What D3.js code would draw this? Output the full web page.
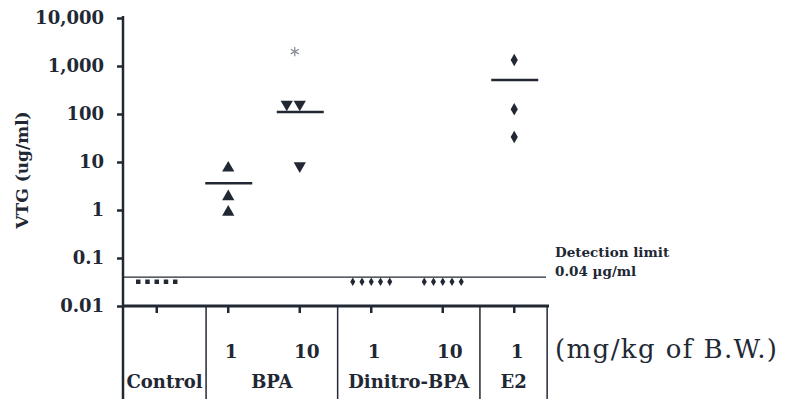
<!DOCTYPE html>
<html>
<head>
<meta charset="utf-8">
<script src="https://cdn.jsdelivr.net/npm/d3@7"></script>
<style>
  body { margin: 0; background: #fff; }
  svg text { font-family: "DejaVu Serif", serif; fill: #222833; }
</style>
</head>
<body>
<div id="chart"></div>
<script>
// treatment columns, left to right
const columns = ["control", "bpa1", "bpa10", "dnb1", "dnb10", "e2"];
const doseLabels = ["", "1", "10", "1", "10", "1"];
// column groups for the bottom table
const groupNames = ["Control", "BPA", "Dinitro-BPA", "E2"];
const groupEdges = [0, 1.19, 3.03, 5.02, 5.96];   // in slot units

const yTicks = [0.01, 0.1, 1, 10, 100, 1000, 10000];
const detectionLimit = 0.04;

// individual fish (ug/ml)
const bpa1Values = [7.5, 1.9, 0.9];
const bpa10Values = [160, 160, 8.3];
const e2Values = [1330, 126, 33];
const bpa10Outlier = [2000];          // grey asterisk
// group means (horizontal bars)
const meanValues = {bpa1: 3.6, bpa10: 110, e2: 510};
// groups where all five fish were below the detection limit
const belowLimitGroups = ["control", "dnb1", "dnb10"];
const belowLimitCount = 5;
const belowLimitValue = 0.032;

const W = 788, H = 399;
const svg = d3.select("#chart").append("svg")
    .attr("width", W).attr("height", H);

const ink = "#222833";

const y = d3.scaleLog().domain([0.01, 10000]).range([306, 18]);
const slot = d3.scaleLinear().domain([0, 6]).range([121, 550]);
const x = d3.scaleBand().domain(columns).range([121, 550]);
const cx = c => x(c) + x.bandwidth() / 2;

// detection limit line
svg.append("line")
    .attr("x1", 123).attr("x2", 546)
    .attr("y1", y(detectionLimit)).attr("y2", y(detectionLimit))
    .attr("stroke", ink).attr("stroke-width", 1.2);

svg.append("text").attr("x", 555).attr("y", 257)
    .style("font-size", "13.5px").style("font-weight", "bold")
    .text("Detection limit");
svg.append("text").attr("x", 555).attr("y", 276)
    .style("font-size", "13.5px").style("font-weight", "bold")
    .text("0.04 \u00b5g/ml");

// y axis
const yAxis = svg.append("g")
    .attr("transform", "translate(123,0)")
    .call(d3.axisLeft(y).tickValues(yTicks).tickFormat(d3.format(","))
        .tickSize(6).tickPadding(13));
yAxis.select(".domain").remove();
yAxis.selectAll(".tick line").attr("stroke", ink).attr("stroke-width", 2.5);
yAxis.selectAll(".tick text")
    .style("font-family", "DejaVu Serif").style("font-size", "18px")
    .style("font-weight", "bold").attr("fill", ink);

// axis spine runs all the way down through the table
svg.append("line")
    .attr("x1", 123).attr("x2", 123).attr("y1", 16).attr("y2", H)
    .attr("stroke", ink).attr("stroke-width", 2.5);

svg.append("text")
    .attr("transform", "translate(28,170) rotate(-90)")
    .attr("text-anchor", "middle")
    .style("font-size", "17px").style("font-weight", "bold")
    .text("VTG (ug/ml)");

// bottom axis with ticks at each column
svg.append("line")
    .attr("x1", 122).attr("x2", 549).attr("y1", y(0.01)).attr("y2", y(0.01))
    .attr("stroke", ink).attr("stroke-width", 3);
const xAxis = svg.append("g")
    .attr("transform", "translate(0," + y(0.01) + ")")
    .call(d3.axisBottom(x).tickSize(7).tickFormat(""));
xAxis.select(".domain").remove();
xAxis.selectAll(".tick line").attr("stroke", ink).attr("stroke-width", 2.5);

// table separators
svg.selectAll(".sep")
    .data(groupEdges.slice(1))
    .enter().append("line")
    .attr("x1", d => slot(d)).attr("x2", d => slot(d))
    .attr("y1", y(0.01)).attr("y2", H)
    .attr("stroke", ink).attr("stroke-width", 1.5);

svg.selectAll(".dose")
    .data(columns)
    .enter().append("text")
    .attr("x", (c, i) => cx(c) + (doseLabels[i] === "10" ? 7 : 3))
    .attr("y", 358)
    .attr("text-anchor", "middle")
    .style("font-size", "18.5px").style("font-weight", "bold")
    .text((c, i) => doseLabels[i]);

svg.selectAll(".group")
    .data(groupNames)
    .enter().append("text")
    .attr("x", (g, i) => (slot(groupEdges[i]) + slot(groupEdges[i + 1])) / 2 + (i === 0 ? 1 : 0))
    .attr("y", 388)
    .attr("text-anchor", "middle")
    .style("font-size", "18px").style("font-weight", "bold")
    .text(g => g);

svg.append("text").attr("x", 555).attr("y", 358)
    .style("font-size", "26px").style("letter-spacing", "1.4px")
    .text("(mg/kg of B.W.)");

// data marks
const sym = (type, size) => d3.symbol().type(type).size(size)();
const downTri = "rotate(180)";

function spread(vals) {
    // side-by-side placement for equal values
    const seen = {};
    return vals.map(v => {
        const k = seen[v] || 0;
        seen[v] = k + 1;
        return {v: v, dx: -13 * k};
    });
}

svg.selectAll(".bpa1")
    .data(bpa1Values)
    .enter().append("path")
    .attr("d", sym(d3.symbolTriangle, 65))
    .attr("transform", d => "translate(" + cx("bpa1") + "," + y(d) + ")")
    .attr("fill", ink);

svg.selectAll(".bpa10")
    .data(spread(bpa10Values))
    .enter().append("path")
    .attr("d", sym(d3.symbolTriangle, 65))
    .attr("transform", d => "translate(" + (cx("bpa10") + d.dx) + "," + y(d.v) + ") " + downTri)
    .attr("fill", ink);

svg.selectAll(".outlier")
    .data(bpa10Outlier)
    .enter().append("path")
    .attr("d", sym(d3.symbolAsterisk, 60))
    .attr("transform", d => "translate(" + (cx("bpa10") - 5) + "," + y(d) + ")")
    .attr("fill", "none").attr("stroke", "#8a8f98").attr("stroke-width", 1.3);

svg.selectAll(".e2")
    .data(e2Values)
    .enter().append("path")
    .attr("d", sym(d3.symbolDiamond, 45))
    .attr("transform", d => "translate(" + cx("e2") + "," + y(d) + ")")
    .attr("fill", ink);

svg.selectAll(".mean")
    .data(Object.entries(meanValues))
    .enter().append("line")
    .attr("x1", d => cx(d[0]) - 23).attr("x2", d => cx(d[0]) + 24)
    .attr("y1", d => y(d[1])).attr("y2", d => y(d[1]))
    .attr("stroke", ink).attr("stroke-width", 2.5);

// five fish below the limit, one small mark each
const fish = d3.range(belowLimitCount);
const fishX = d3.scalePoint().domain(fish).range([-18.5, 18.5]);
belowLimitGroups.forEach(g => {
    svg.selectAll(".bl-" + g)
        .data(fish)
        .enter().append("path")
        .attr("d", g === "control" ? sym(d3.symbolSquare, 20) : sym(d3.symbolDiamond, 22))
        .attr("transform", d => "translate(" + (cx(g) + fishX(d)) + "," + y(belowLimitValue) + ")")
        .attr("fill", ink);
});
</script>
</body>
</html>
